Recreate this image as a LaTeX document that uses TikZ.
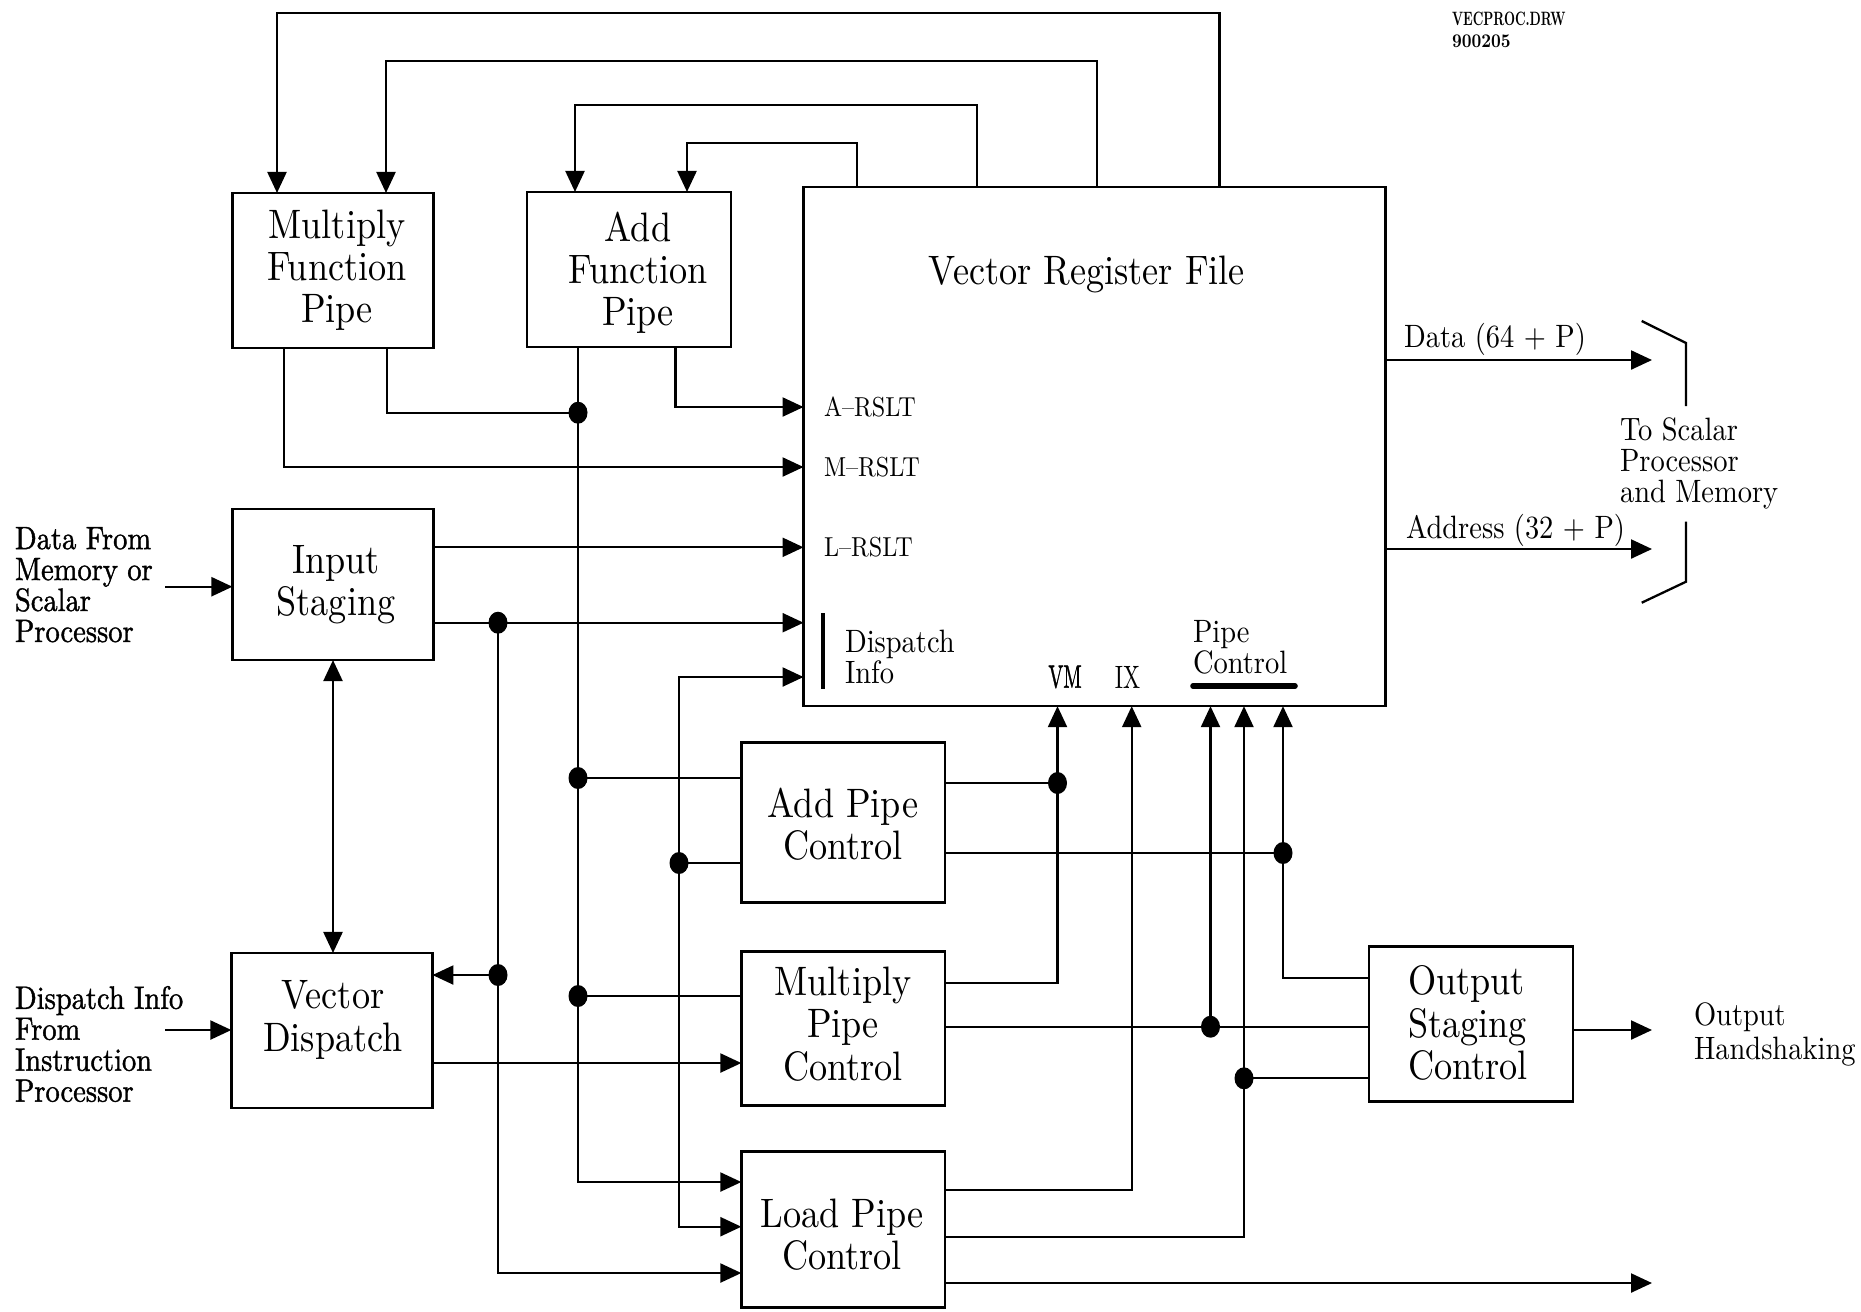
\documentclass[tikz,border=0pt]{standalone}
\usepackage{fontspec}
\setmainfont{lmroman10-regular.otf}[FakeStretch=0.88, BoldFont=lmroman10-bold.otf]
\newfontfamily\heavyfont{lmroman10-regular.otf}[FakeStretch=0.88, FakeBold=1.2]
\usepackage{graphicx}
\usetikzlibrary{arrows.meta,shapes.geometric}
\newcommand{\boxfont}{\fontsize{11.7}{12}\selectfont}
\newcommand{\labfont}{\fontsize{9.2}{8.8}\selectfont}
\newcommand{\sigfont}{\fontsize{7.8}{8}\selectfont}
\begin{document}
\begin{tikzpicture}[x=0.01cm, y=-0.01cm,
  line width=0.65pt,
  box/.style={draw, line width=0.75pt, inner sep=0pt, outer sep=0pt},
  btext/.style={inner sep=0pt, outer sep=0pt, align=center, font=\boxfont},
  lab/.style={inner sep=0pt, outer sep=0pt, align=left, font=\labfont, anchor=north west},
  heavylab/.style={lab, font=\heavyfont\labfont},
  sig/.style={inner sep=0pt, outer sep=0pt, font=\sigfont, anchor=west},
  arr/.style={-{Triangle[length=0.21cm,width=0.19cm]}},
  dbl/.style={{Triangle[length=0.21cm,width=0.19cm]}-{Triangle[length=0.21cm,width=0.19cm]}},
  dot/.style={ellipse, fill, inner sep=0pt, minimum width=0.19cm, minimum height=0.22cm},
  thickbar/.style={line width=1.6pt, line cap=round}
]
\useasboundingbox (0,0) rectangle (1861,1311);

% boxes
\node[box, minimum width=2.01cm, minimum height=1.55cm] (mfp) at (333,270.5) {};
\node[box, minimum width=2.04cm, minimum height=1.55cm] (afp) at (629,269.5) {};
\node[box, minimum width=5.818cm, minimum height=5.19cm] (vrf) at (1094.6,446.5) {};
\node[box, minimum width=2.01cm, minimum height=1.51cm] (ist) at (333,584.5) {};
\node[box, minimum width=2.01cm, minimum height=1.55cm] (vd) at (331.9,1030.5) {};
\node[box, minimum width=2.036cm, minimum height=1.60cm] (apc) at (843.2,822.7) {};
\node[box, minimum width=2.036cm, minimum height=1.54cm] (mpc) at (843.2,1028.5) {};
\node[box, minimum width=2.036cm, minimum height=1.56cm] (lpc) at (843.2,1229.7) {};
\node[box, minimum width=2.04cm, minimum height=1.55cm] (osc) at (1471,1024.2) {};

% box texts
\node[btext] (mfpT) at (337,270) {Multiply\\Function\\Pipe};
\node[btext] (afpT) at (638,273) {Add\\Function\\Pipe};
\node[btext] (vrfT) at (1087,274) {Vector Register File};
\node[btext] (istT) at (336,585) {Input\\Staging};
\node[btext] (vdT) at (333,1020) {Vector\\Dispatch};
\node[btext] (apcT) at (843,824) {Add Pipe\\Control};
\node[btext] (mpcT) at (843,1024) {Multiply\\Pipe\\Control};
\node[btext] (lpcT) at (842,1235) {Load Pipe\\Control};
\node[btext, align=left, anchor=west] (oscT) at (1408,1023) {Output\\Staging\\Control};

% feedback loops
\coordinate (f1a) at (1219.4,13.3); \coordinate (f1b) at (277,13.3);
\draw[arr] (vrf.north -| f1a) -- (f1a) -- (f1b) -- (mfp.north -| f1b);
\coordinate (f2a) at (1097,61); \coordinate (f2b) at (386,61);
\draw[arr] (vrf.north -| f2a) -- (f2a) -- (f2b) -- (mfp.north -| f2b);
\coordinate (f3a) at (977,105); \coordinate (f3b) at (575,105);
\draw[arr] (vrf.north -| f3a) -- (f3a) -- (f3b) -- (afp.north -| f3b);
\coordinate (f4a) at (857,143); \coordinate (f4b) at (687,143);
\draw[arr] (vrf.north -| f4a) -- (f4a) -- (f4b) -- (afp.north -| f4b);

% M-RSLT
\coordinate (mr) at (284,467);
\draw[arr] (mfp.south -| mr) -- (mr) -- (vrf.west |- mr);
% multiply to bus
\coordinate (mb) at (387,412.7);
\coordinate (j1) at (578,412.7);
\draw (mfp.south -| mb) -- (mb) -- (j1);
% add bus
\coordinate (busE) at (578,1182);
\draw[arr] (afp.south -| busE) -- (busE) -- (lpc.west |- busE);
\coordinate (j2) at (578,778); \coordinate (j3) at (578,996);
\draw (j2) -- (apc.west |- j2);
\draw (j3) -- (mpc.west |- j3);
% A-RSLT
\coordinate (ar) at (675.6,407);
\draw[arr] (afp.south -| ar) -- (ar) -- (vrf.west |- ar);
% L-RSLT
\coordinate (lr) at (433.6,547.3);
\draw[arr] (ist.east |- lr) -- (vrf.west |- lr);
% input staging second output
\coordinate (j4) at (498,622.7);
\draw[arr] (ist.east |- j4) -- (vrf.west |- j4);
\coordinate (j4e) at (498,1273);
\draw[arr] (j4) -- (j4e) -- (lpc.west |- j4e);
\coordinate (j5) at (498,975);
\draw[arr] (j5) -- (vd.east |- j5);
% dispatch info line
\coordinate (dA) at (679,677); \coordinate (dB) at (679,1226.7); \coordinate (j6) at (679,863);
\draw[arr] (j6) -- (dA) -- (vrf.west |- dA);
\draw[arr] (j6) -- (dB) -- (lpc.west |- dB);
\draw (j6) -- (apc.west |- j6);
% input staging <-> vector dispatch
\draw[dbl] (ist.south) -- (vd.north -| ist.south);
% external inputs
\coordinate (inA) at (165,586.7); \draw[arr] (inA) -- (ist.west |- inA);
\coordinate (inB) at (165,1030); \draw[arr] (inB) -- (vd.west |- inB);
% vector dispatch -> multiply pipe control
\coordinate (vdo) at (432.4,1063); \draw[arr] (vd.east |- vdo) -- (mpc.west |- vdo);
% VM
\coordinate (j7) at (1057.5,783); \coordinate (vmB) at (1057.5,983.3);
\draw (apc.east |- j7) -- (j7);
\draw[arr] (mpc.east |- vmB) -- (vmB) -- (vrf.south -| vmB);
% pipe control 3
\coordinate (j8) at (1283,853); \coordinate (pc3B) at (1283,977.7);
\draw (apc.east |- j8) -- (j8);
\draw[arr] (osc.west |- pc3B) -- (pc3B) -- (vrf.south -| pc3B);
% pipe control 1
\coordinate (j9) at (1210.5,1026.7);
\draw (mpc.east |- j9) -- (osc.west |- j9);
\draw[arr] (j9) -- (vrf.south -| j9);
% IX
\coordinate (ixB) at (1131.7,1190);
\draw[arr] (lpc.east |- ixB) -- (ixB) -- (vrf.south -| ixB);
% pipe control 2
\coordinate (pc2B) at (1244,1237); \coordinate (j10) at (1244,1078.3);
\draw[arr] (lpc.east |- pc2B) -- (pc2B) -- (vrf.south -| pc2B);
\draw (j10) -- (osc.west |- j10);
% outputs
\coordinate (lpo) at (1652,1283); \draw[arr] (lpc.east |- lpo) -- (lpo);
\coordinate (oso) at (1652,1030); \draw[arr] (osc.east |- oso) -- (oso);
\coordinate (dOut) at (1652,360); \draw[arr] (vrf.east |- dOut) -- (dOut);
\coordinate (aOut) at (1652,549); \draw[arr] (vrf.east |- aOut) -- (aOut);
% bracket
\draw (1641.7,321) -- (1686,343) -- (1686,406);
\draw (1686,521.7) -- (1686,581.7) -- (1641.7,602.7);
% bars
\draw[line width=1.4pt] (823,613) -- (823,689);
\draw[thickbar] (1193,686) -- (1295,686);

% junction dots
\foreach \j in {j1,j2,j3,j4,j5,j6,j7,j8,j9,j10} \node[dot] (d\j) at (\j) {};

% signal labels inside VRF
\node[sig] (lA) at (824,407) {A--RSLT};
\node[sig] (lM) at (824,467) {M--RSLT};
\node[sig] (lL) at (824,547) {L--RSLT};
\node[lab] (lDI) at (845,630) {Dispatch\\Info};
\node[lab] (lPC) at (1193,620) {Pipe\\Control};
\node[inner sep=0pt, font=\heavyfont\labfont] (lVM) at (1065,677) {\scalebox{0.7}[1]{VM}};
\node[inner sep=0pt, font=\labfont] (lIX) at (1127.5,677) {\scalebox{0.8}[1]{IX}};

% external labels
\node[heavylab] (lDF) at (15,527) {Data From\\Memory or\\Scalar\\Processor};
\node[heavylab] (lDIF) at (15,986) {Dispatch Info\\From\\Instruction\\Processor};
\node[lab] (lTS) at (1620,418) {To Scalar\\Processor\\and Memory};
\node[lab, font=\fontsize{9.2}{9.6}\selectfont] (lOH) at (1694,1003) {Output\\Handshaking};
\node[lab] (lD) at (1404,323) {Data (64 + P)};
\node[lab] (lAd) at (1406,514) {Address (32 + P)};
\node[lab, font=\bfseries\fontsize{5.5}{6.5}\selectfont] (lVP) at (1452,12) {\scalebox{0.75}[1]{VECPROC.DRW}};
\node[lab, font=\bfseries\fontsize{5.5}{6.5}\selectfont] (lDate) at (1452,35) {900205};
\end{tikzpicture}
\end{document}
